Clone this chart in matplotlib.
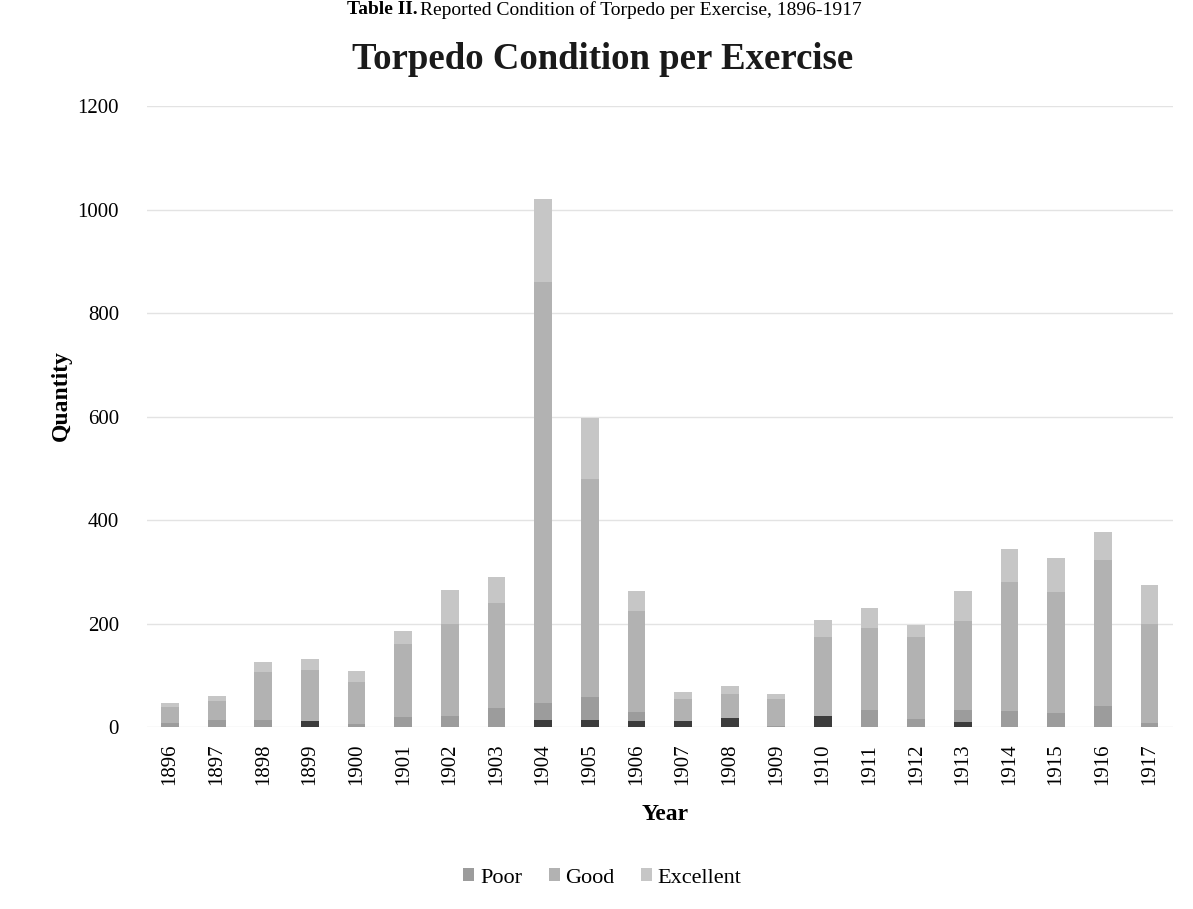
import matplotlib
matplotlib.use("Agg")
import matplotlib.pyplot as plt
import numpy as np

years = ["1896", "1897", "1898", "1899", "1900", "1901", "1902", "1903", "1904", "1905", "1906",
         "1907", "1908", "1909", "1910", "1911", "1912", "1913", "1914", "1915", "1916", "1917"]
# dark bottom segment (not named in legend)
failed = [0, 0, 0, 12, 0, 0, 0, 0, 13, 13, 12, 12, 17, 0, 21, 0, 0, 10, 0, 0, 0, 0]
poor = [8, 14, 14, 0, 6, 19, 21, 37, 33, 45, 17, 0, 0, 3, 0, 33, 16, 23, 31, 27, 41, 8]
good = [32, 36, 92, 99, 82, 142, 179, 203, 814, 422, 196, 43, 48, 51, 153, 158, 158, 172, 249, 234, 282, 191]
excellent = [6, 10, 20, 20, 20, 25, 65, 51, 160, 118, 38, 13, 14, 10, 33, 39, 23, 58, 64, 67, 54, 75]

series_names = ["Poor", "Good", "Excellent"]
colors = {"failed": "#3c3c3c", "Poor": "#9c9c9c", "Good": "#b2b2b2", "Excellent": "#c6c6c6"}

plt.rcParams['font.family'] = ['Liberation Serif', 'DejaVu Serif']

fig = plt.figure(figsize=(11.93, 9.09), dpi=100)
ax = fig.add_axes([0.123, 0.200, 0.860, 0.683])

x = np.arange(len(years))
w = 0.38
bottom = np.zeros(len(years))
ax.bar(x, failed, w, bottom=bottom, color=colors["failed"], label="_nolegend_", zorder=3)
bottom += np.array(failed)
for name, vals in zip(series_names, [poor, good, excellent]):
    ax.bar(x, vals, w, bottom=bottom, color=colors[name], label=name, zorder=3)
    bottom += np.array(vals)

ax.set_xlim(-0.5, len(years) - 0.5)
ax.set_ylim(0, 1200)
ax.set_yticks(np.arange(0, 1201, 200))
ax.set_xticks(x)
ax.set_xticklabels(years, rotation=90, fontsize=15)
ax.tick_params(axis='y', labelsize=15, length=0, pad=20)
ax.tick_params(axis='x', length=0, pad=12)
ax.grid(axis='y', color='#e3e3e3', linewidth=1.0, zorder=0)
for s in ax.spines.values():
    s.set_visible(False)

ax.set_xlabel("Year", fontsize=17, fontweight='bold')
ax.xaxis.set_label_coords(0.505, -0.124)
ax.set_ylabel("Quantity", fontsize=17, fontweight='bold')
ax.yaxis.set_label_coords(-0.073, 0.535)

fig.text(0.505, 0.934, "Torpedo Condition per Exercise", ha='center', va='center',
         fontsize=26.5, fontweight='bold', color='#1a1a1a')

fig.text(0.350, 0.999, "Table II.", ha='right', va='top', fontsize=14, fontweight='bold')
fig.text(0.352, 0.999, "Reported Condition of Torpedo per Exercise, 1896-1917", ha='left',
         va='top', fontsize=14)

leg = fig.legend(loc='center', bbox_to_anchor=(0.505, 0.034), ncol=3, frameon=False,
                 fontsize=16, handlelength=0.5, handleheight=0.5, handletextpad=0.25,
                 columnspacing=1.2)

fig.savefig("out.png", dpi=100)
